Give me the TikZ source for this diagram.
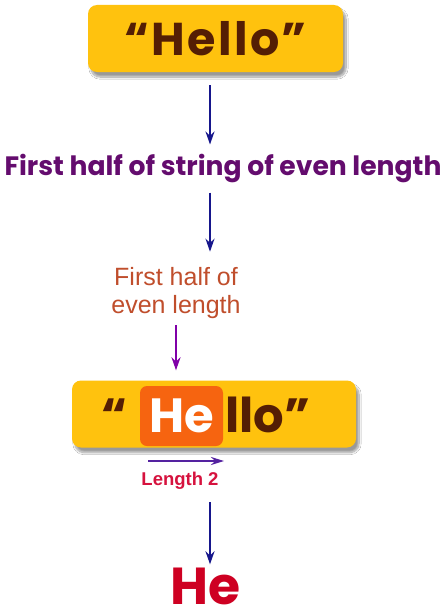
\documentclass[tikz,border=0pt]{standalone}
\usepackage{fontspec}
\setmainfont{Liberation Sans}
\newfontfamily\roundfont{Poppins}
\newfontfamily\roundwide[LetterSpace=5]{Poppins}
\usetikzlibrary{arrows.meta,positioning,shadows.blur}
\definecolor{boxgold}{RGB}{255,194,14}
\definecolor{hellobrown}{RGB}{84,30,4}
\definecolor{heorange}{RGB}{246,100,16}
\definecolor{rulepurple}{RGB}{100,12,110}
\definecolor{halfred}{RGB}{192,78,44}
\definecolor{lenred}{RGB}{214,18,62}
\definecolor{resred}{RGB}{206,0,34}
\definecolor{navyarrow}{RGB}{22,22,140}
\definecolor{violetarrow}{RGB}{128,0,168}
\definecolor{lenarrow}{RGB}{84,34,160}
\tikzstyle{wordbox}=[fill=boxgold,rounded corners=9pt,blur shadow={shadow xshift=3pt,shadow yshift=-5pt,shadow blur steps=10}]
\tikzstyle{bigword}=[inner sep=0pt,text=hellobrown,font=\roundfont\bfseries\fontsize{48}{48}\selectfont]
\tikzstyle{flow}=[draw=navyarrow,line width=2pt,-{Stealth[length=13pt,width=9pt]}]

\begin{document}
\begin{tikzpicture}[x=1pt,y=-1pt]
\useasboundingbox[fill=white] (0,0) rectangle (446,610);
\coordinate (ax) at (210,0);
% the word, the rule and what is kept
\node[wordbox,minimum width=255pt,minimum height=67pt,font=\roundwide\bfseries\fontsize{46}{46}\selectfont,text=hellobrown] (hello) at (215.5,38.5) {“Hello”};
\node[inner sep=0pt,anchor=base,text=rulepurple,font=\roundfont\bfseries\fontsize{26.6}{27}\selectfont] (rule) at (223,175) {First half of string of even length};
\node[inner sep=0pt,anchor=base,align=center,text=halfred,font=\fontsize{25}{28}\selectfont] (half) at (176,313) {First half of\\even length};
\node[wordbox,minimum width=284pt,minimum height=67pt] (hello2) at (214,414) {};
\node[bigword,fill=heorange,rounded corners=7pt,minimum width=83pt,minimum height=60pt,text=white] (he) at (181.5,416) {He};
\node[bigword,base left=12pt of he] (lq) {“};
\node[bigword,base right=2pt of he] (rest) {llo”};
\coordinate (lenA) at (148,461);
\coordinate (lenB) at (224,461);
\node[inner sep=0pt,anchor=base,text=lenred,font=\bfseries\fontsize{18.5}{18.5}\selectfont] (len) at (180,485) {Length 2};
\node[inner sep=0pt,anchor=base,text=resred,font=\roundfont\bfseries\fontsize{52}{52}\selectfont] (res) at (206,604) {He};

\draw[flow,shorten <=13pt,shorten >=9pt] (hello.south -| ax) -- (rule.north -| ax);
\draw[flow,shorten <=10pt,shorten >=15pt] (rule.south -| ax) -- (half.north -| ax);
\draw[flow,draw=violetarrow,shorten <=7pt,shorten >=10pt] (half.south) -- (half.south |- hello2.north);
\draw[draw=lenarrow,line width=2.5pt,-{Stealth[length=13pt,width=8pt]}] (lenA) -- (lenB);
\draw[flow,shorten <=13pt,shorten >=3pt] (len.south -| ax) -- (res.north -| ax);
\end{tikzpicture}
\end{document}
